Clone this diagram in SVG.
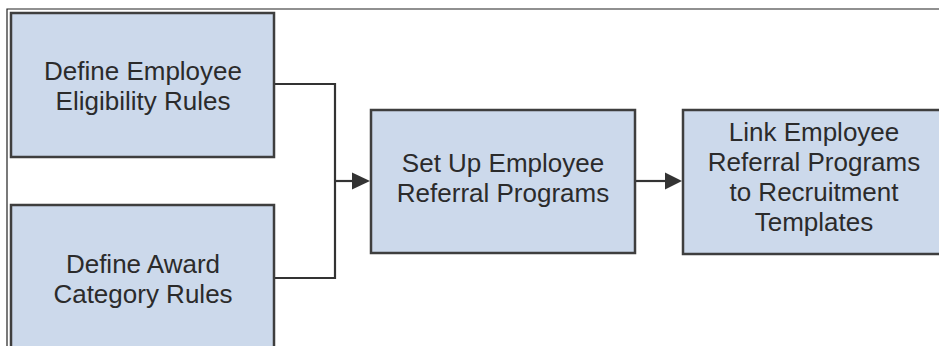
<svg xmlns="http://www.w3.org/2000/svg" width="939" height="346" viewBox="0 0 939 346">
  <style>
    .box { fill: #ccd9eb; stroke: #3e3e3e; stroke-width: 2.5; }
    .lbl { font-family: "Liberation Sans", Arial, sans-serif; font-size: 26px; fill: #2b2b2b; text-anchor: middle; }
    .conn { fill: none; stroke: #333333; stroke-width: 2.2; }
    .head { fill: #333333; }
    .frame { fill: none; stroke: #222222; stroke-width: 1.2; }
  </style>
  <rect width="939" height="346" fill="#ffffff"/>
  <path class="frame" d="M7,346 V9 H939"/>

  <g id="connectors">
    <path class="conn" d="M274,84 H335 V278 H274"/>
    <path class="conn" d="M335,181 H353"/>
    <polygon class="head" points="352,172.5 370,181 352,189.5"/>
    <path class="conn" d="M635,181 H666"/>
    <polygon class="head" points="665,172.5 682,181 665,189.5"/>
  </g>

  <g id="node-eligibility">
    <rect class="box" x="11" y="13" width="263" height="144"/>
    <text class="lbl" x="143" y="80">Define Employee</text>
    <text class="lbl" x="143" y="110">Eligibility Rules</text>
  </g>

  <g id="node-award">
    <rect class="box" x="11" y="205" width="263" height="144"/>
    <text class="lbl" x="143" y="273">Define Award</text>
    <text class="lbl" x="143" y="303">Category Rules</text>
  </g>

  <g id="node-setup">
    <rect class="box" x="371" y="110" width="264" height="143"/>
    <text class="lbl" x="503" y="172">Set Up Employee</text>
    <text class="lbl" x="503" y="202">Referral Programs</text>
  </g>

  <g id="node-link">
    <rect class="box" x="683" y="110" width="264" height="144"/>
    <text class="lbl" x="814" y="141">Link Employee</text>
    <text class="lbl" x="814" y="171">Referral Programs</text>
    <text class="lbl" x="814" y="201">to Recruitment</text>
    <text class="lbl" x="814" y="231">Templates</text>
  </g>
</svg>
